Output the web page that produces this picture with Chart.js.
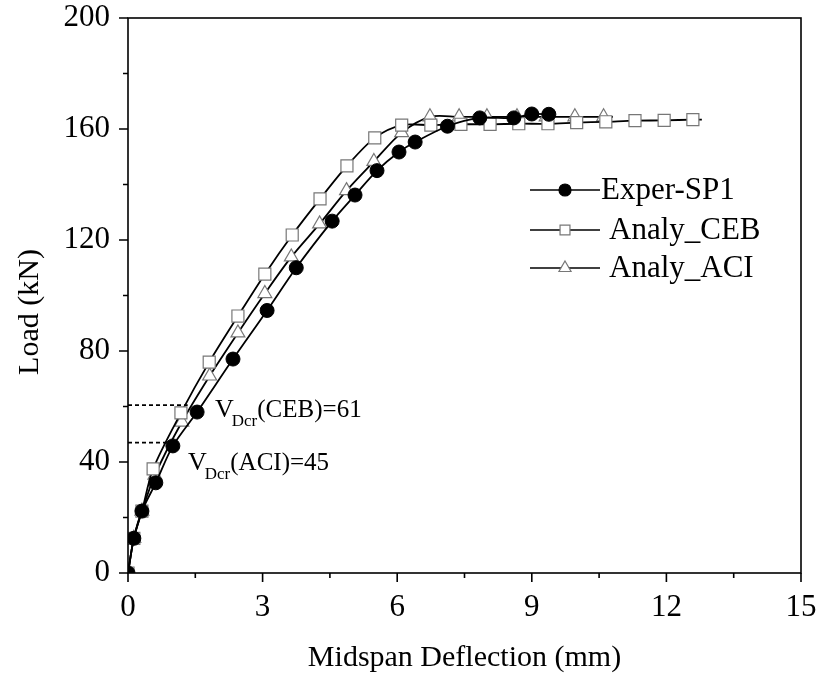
<!DOCTYPE html>
<html>
<head>
<meta charset="utf-8">
<script src="https://cdn.jsdelivr.net/npm/chart.js@4/dist/chart.umd.min.js"></script>
<style>
  html, body { margin: 0; padding: 0; background: #fff; }
  #wrap { width: 823px; height: 686px; position: relative; }
</style>
</head>
<body>
<div id="wrap"><canvas id="loadChart" width="823" height="686"></canvas></div>
<script>
// Midspan deflection (mm) / load (kN)
const experX = [0, 0.13, 0.31, 0.62, 1.0, 1.54, 2.34, 3.1, 3.75, 4.55, 5.06, 5.55, 6.04, 6.4, 7.12, 7.84, 8.6, 9.0, 9.38];
const experY = [0, 12.5, 22.3, 32.5, 45.8, 58.0, 77.1, 94.6, 110, 126.8, 136.2, 145, 151.7, 155.3, 161.0, 164.0, 164.0, 165.4, 165.3];

// last entry of each analytical series is the line end, drawn without marker
const cebX = [0, 0.13, 0.31, 0.56, 1.18, 1.81, 2.45, 3.05, 3.66, 4.28, 4.88, 5.5, 6.1, 6.75, 7.42, 8.07, 8.71, 9.36, 10.0, 10.65, 11.3, 11.95, 12.59, 12.79];
const cebY = [0, 12.5, 22.3, 37.5, 57.7, 76.0, 92.6, 107.7, 121.8, 134.8, 146.7, 156.8, 161.4, 161.4, 161.7, 161.7, 161.9, 161.9, 162.3, 162.6, 163.0, 163.1, 163.4, 163.4];

const aciX = [0, 0.13, 0.31, 0.6, 1.2, 1.82, 2.45, 3.05, 3.64, 4.27, 4.87, 5.48, 6.1, 6.73, 7.38, 8.0, 8.67, 9.32, 9.96, 10.6, 10.81];
const aciY = [0, 12.5, 22.3, 35.3, 54.4, 71.0, 86.5, 100.7, 113.9, 125.8, 137.8, 148.3, 158.7, 164.4, 164.4, 164.4, 164.4, 164.4, 164.4, 164.4, 164.4];

// cracking load guide lines
const crCebX = [0, 1.33];
const crCebY = [60.5, 60.5];
const crAciX = [0, 0.98];
const crAciY = [47, 47];

const xTicks = [0, 3, 6, 9, 12, 15];
const yTicks = [0, 40, 80, 120, 160, 200];

const seriesNames = ['Exper-SP1', 'Analy_CEB', 'Analy_ACI'];

const FONT = "'Liberation Serif', 'Times New Roman', serif";

function pts(xs, ys) {
    return xs.map((x, i) => ({ x: x, y: ys[i] }));
}

// no marker on the trailing line end
function endless(r) {
    return function(c) {
        return c.dataIndex === c.dataset.data.length - 1 ? 0 : r;
    };
}

// frame + outward ticks (major and minor)
const frameTicks = {
    id: 'frameTicks',
    afterDraw(chart) {
        const ctx = chart.ctx;
        const a = chart.chartArea;
        const xs = chart.scales.x, ys = chart.scales.y;
        ctx.save();
        ctx.strokeStyle = '#000';
        ctx.lineWidth = 1.6;
        ctx.strokeRect(a.left, a.top, a.right - a.left, a.bottom - a.top);
        ctx.beginPath();
        for (let v = 0; v <= 15; v += 1.5) {
            const px = xs.getPixelForValue(v);
            const len = (Math.round(v * 10) % 30 === 0) ? 9 : 5;
            ctx.moveTo(px, a.bottom);
            ctx.lineTo(px, a.bottom + len);
        }
        for (let v = 0; v <= 200; v += 20) {
            const py = ys.getPixelForValue(v);
            const len = (v % 40 === 0) ? 9 : 5;
            ctx.moveTo(a.left, py);
            ctx.lineTo(a.left - len, py);
        }
        ctx.stroke();

        // y title
        ctx.fillStyle = '#000';
        ctx.font = '30px ' + FONT;
        ctx.textAlign = 'center';
        ctx.textBaseline = 'middle';
        ctx.translate(30, 312);
        ctx.rotate(-Math.PI / 2);
        ctx.fillText('Load (kN)', 0, 0);
        ctx.restore();
    }
};

// V_Dcr labels
const crackLabels = {
    id: 'crackLabels',
    afterDraw(chart) {
        const ctx = chart.ctx;
        ctx.save();
        ctx.fillStyle = '#000';
        ctx.textBaseline = 'alphabetic';
        const items = [
            { x: 215, y: 417, tag: '(CEB)=61' },
            { x: 188, y: 470, tag: '(ACI)=45' }
        ];
        items.forEach(it => {
            let cx = it.x;
            ctx.font = '26px ' + FONT;
            ctx.fillText('V', cx, it.y);
            cx += ctx.measureText('V').width - 2;
            ctx.font = '17px ' + FONT;
            ctx.fillText('Dcr', cx, it.y + 9);
            cx += ctx.measureText('Dcr').width;
            ctx.font = '25px ' + FONT;
            ctx.fillText(it.tag, cx, it.y);
        });
        ctx.restore();
    }
};

// legend with line + marker sample
const sampleLegend = {
    id: 'sampleLegend',
    afterDraw(chart) {
        const ctx = chart.ctx;
        const rows = [
            { y: 190, style: 'circle', textX: 601 },
            { y: 230, style: 'rect', textX: 609 },
            { y: 268, style: 'triangle', textX: 609 }
        ];
        ctx.save();
        rows.forEach((r, i) => {
            ctx.strokeStyle = '#000';
            ctx.lineWidth = 1.6;
            ctx.beginPath();
            ctx.moveTo(530, r.y);
            ctx.lineTo(600, r.y);
            ctx.stroke();
            const ds = chart.data.datasets[i];
            ctx.fillStyle = ds.pointBackgroundColor;
            ctx.strokeStyle = ds.pointBorderColor;
            ctx.lineWidth = 1.2;
            Chart.helpers.drawPoint(ctx, {
                pointStyle: r.style,
                radius: r.style === 'circle' ? 6 : 7,
                borderWidth: 1.2
            }, 565, r.y);
            ctx.fillStyle = '#000';
            ctx.font = '31px ' + FONT;
            ctx.textBaseline = 'middle';
            ctx.fillText(seriesNames[i], r.textX, r.y + 1);
        });
        ctx.restore();
    }
};

document.addEventListener('DOMContentLoaded', function() {
    const ctx = document.getElementById('loadChart');

    new Chart(ctx.getContext('2d'), {
        type: 'scatter',
        data: {
            datasets: [
                {
                    label: seriesNames[0],
                    data: pts(experX, experY),
                    showLine: true,
                    borderColor: '#000',
                    borderWidth: 1.8,
                    tension: 0.3,
                    pointStyle: 'circle',
                    pointRadius: 7,
                    pointBackgroundColor: '#000',
                    pointBorderColor: '#000',
                    pointBorderWidth: 1
                },
                {
                    label: seriesNames[1],
                    data: pts(cebX, cebY),
                    showLine: true,
                    borderColor: '#000',
                    borderWidth: 1.8,
                    tension: 0.3,
                    pointStyle: 'rect',
                    pointRadius: endless(8.5),
                    pointBackgroundColor: '#fff',
                    pointBorderColor: '#777',
                    pointBorderWidth: 1.2
                },
                {
                    label: seriesNames[2],
                    data: pts(aciX, aciY),
                    showLine: true,
                    borderColor: '#000',
                    borderWidth: 1.8,
                    tension: 0.3,
                    pointStyle: 'triangle',
                    pointRadius: endless(8),
                    pointBackgroundColor: '#fff',
                    pointBorderColor: '#777',
                    pointBorderWidth: 1.2
                },
                {
                    data: pts(crCebX, crCebY),
                    showLine: true,
                    borderColor: '#000',
                    borderWidth: 1.6,
                    borderDash: [4, 3],
                    pointRadius: 0
                },
                {
                    data: pts(crAciX, crAciY),
                    showLine: true,
                    borderColor: '#000',
                    borderWidth: 1.6,
                    borderDash: [4, 3],
                    pointRadius: 0
                }
            ]
        },
        options: {
            responsive: false,
            animation: false,
            devicePixelRatio: 1,
            layout: { autoPadding: false, padding: { left: 0, right: 22, top: 18, bottom: 0 } },
            scales: {
                x: {
                    type: 'linear',
                    min: 0,
                    max: 15,
                    afterFit: function(scale) {
                        scale.height = 113;
                        scale.paddingLeft = 0;
                        scale.paddingRight = 0;
                    },
                    afterBuildTicks: function(scale) {
                        scale.ticks = xTicks.map(v => ({ value: v }));
                    },
                    grid: { display: false },
                    border: { display: false },
                    ticks: {
                        font: { family: FONT, size: 31 },
                        color: '#000',
                        padding: 8,
                        maxRotation: 0
                    },
                    title: {
                        display: true,
                        text: 'Midspan Deflection (mm)',
                        font: { family: FONT, size: 30 },
                        color: '#000',
                        padding: { top: 0, bottom: 10 }
                    }
                },
                y: {
                    type: 'linear',
                    min: 0,
                    max: 200,
                    afterFit: function(scale) {
                        scale.width = 128;
                        scale.paddingTop = 0;
                        scale.paddingBottom = 0;
                    },
                    afterBuildTicks: function(scale) {
                        scale.ticks = yTicks.map(v => ({ value: v }));
                    },
                    grid: { display: false },
                    border: { display: false },
                    ticks: {
                        font: { family: FONT, size: 31 },
                        color: '#000',
                        padding: 10
                    }
                }
            },
            plugins: {
                legend: { display: false },
                tooltip: { enabled: false }
            }
        },
        plugins: [frameTicks, crackLabels, sampleLegend]
    });
});
</script>
</body>
</html>
